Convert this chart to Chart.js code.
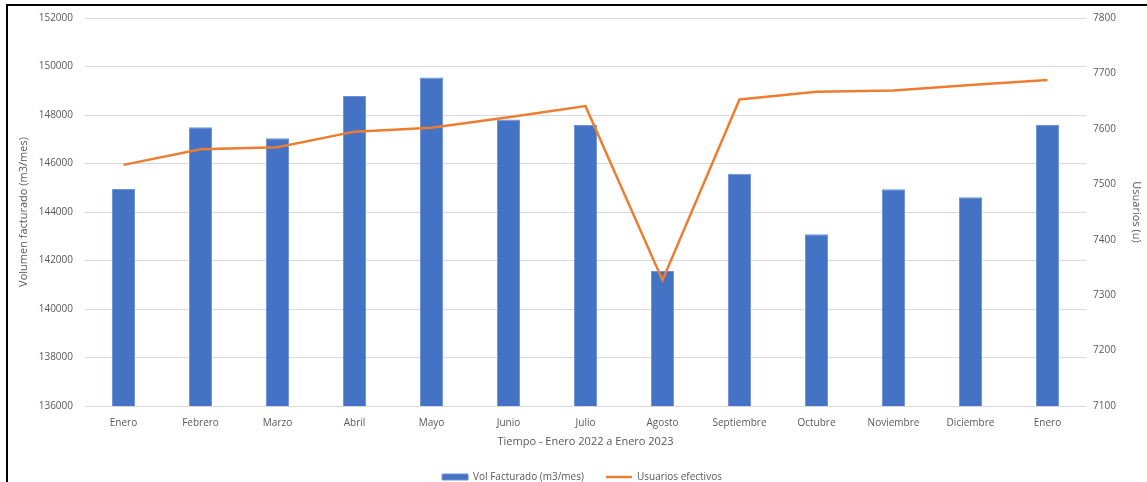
<!DOCTYPE html>
<html>
<head>
<meta charset="utf-8">
<script src="https://cdn.jsdelivr.net/npm/chart.js@4"></script>
<style>
  body { margin: 0; background: #fff; }
  #wrap { position: absolute; left: 0; top: 0; width: 1147px; height: 482px; }
  #frame { position: absolute; left: 6px; top: 4px; width: 1141px; height: 478px;
           border-top: 2px solid #000; border-left: 2px solid #000; pointer-events: none; }
</style>
</head>
<body>
<div id="wrap"><canvas id="volChart"></canvas></div>
<div id="frame"></div>
<script>
const meses = ['Enero', 'Febrero', 'Marzo', 'Abril', 'Mayo', 'Junio', 'Julio', 'Agosto',
  'Septiembre', 'Octubre', 'Noviembre', 'Diciembre', 'Enero'];
const volFacturado = [144950, 147490, 147040, 148780, 149550, 147810, 147590, 141570,
  145580, 143080, 144940, 144610, 147590];
const usuarios = [7535, 7563, 7567, 7595, 7602, 7621, 7641, 7327, 7653, 7667, 7669, 7679, 7688];
const volTicks = [136000, 152000, 2000];   // min, max, step
const userTicks = [7100, 7800, 100];

const gris = '#595959';
const fuente = { family: "'Open Sans', sans-serif", size: 10 };
const fuenteTitulo = { family: "'Open Sans', sans-serif", size: 11 };

const ctx = document.getElementById('volChart').getContext('2d');
const volChart = new Chart(ctx, {
  type: 'bar',
  data: {
    labels: meses,
    datasets: [{
      label: 'Vol Facturado (m3/mes)',
      data: volFacturado,
      backgroundColor: '#4472C4',
      borderColor: '#6E93D6',
      borderWidth: 1,
      barPercentage: 0.3,
      categoryPercentage: 1,
      yAxisID: 'y',
      pointStyle: 'rect',
      order: 2
    }, {
      type: 'line',
      label: 'Usuarios efectivos',
      data: usuarios,
      borderColor: '#ED7D31',
      backgroundColor: '#ED7D31',
      borderWidth: 2.5,
      pointRadius: 0,
      tension: 0,
      yAxisID: 'y1',
      pointStyle: 'line',
      order: 1
    }]
  },
  options: {
    responsive: true,
    maintainAspectRatio: false,
    animation: false,
    // el fondo negativo baja la leyenda hasta el borde como en el original
    layout: { padding: { left: 17, right: 0, top: 16, bottom: -10 } },
    plugins: {
      tooltip: { enabled: false },
      legend: {
        position: 'bottom',
        labels: {
          color: gris,
          font: fuente,
          usePointStyle: true,
          pointStyleWidth: 26,
          boxHeight: 6,
          padding: 22,
          sort: (a, b) => a.datasetIndex - b.datasetIndex
        }
      }
    },
    scales: {
      x: {
        grid: { display: false },
        border: { display: false },
        ticks: { color: gris, font: fuente, padding: 3, maxRotation: 0, autoSkip: false },
        title: {
          display: true,
          text: 'Tiempo - Enero 2022 a Enero 2023',
          color: gris,
          font: fuenteTitulo,
          padding: { top: 1, bottom: 2 }
        },
        afterFit: (scale) => { scale.height = 44; }
      },
      y: {
        position: 'left',
        min: volTicks[0],
        max: volTicks[1],
        grid: { color: '#D9D9D9', drawTicks: false },
        border: { display: false },
        ticks: {
          stepSize: volTicks[2],
          color: gris,
          font: fuente,
          padding: 12,
          callback: (v) => String(v)
        },
        title: {
          display: true,
          text: 'Volumen facturado (m3/mes)',
          color: gris,
          font: fuenteTitulo,
          padding: 0
        },
        afterFit: (scale) => { scale.width = 68; }
      },
      y1: {
        position: 'right',
        min: userTicks[0],
        max: userTicks[1],
        grid: { drawOnChartArea: false, drawTicks: false },
        border: { display: false },
        ticks: {
          stepSize: userTicks[2],
          color: gris,
          font: fuente,
          padding: 7,
          callback: (v) => String(v)
        },
        title: {
          display: true,
          text: 'Usuarios (u)',
          color: gris,
          font: fuenteTitulo,
          padding: 4
        },
        afterFit: (scale) => { scale.width = 61; }
      }
    }
  }
});
</script>
</body>
</html>
